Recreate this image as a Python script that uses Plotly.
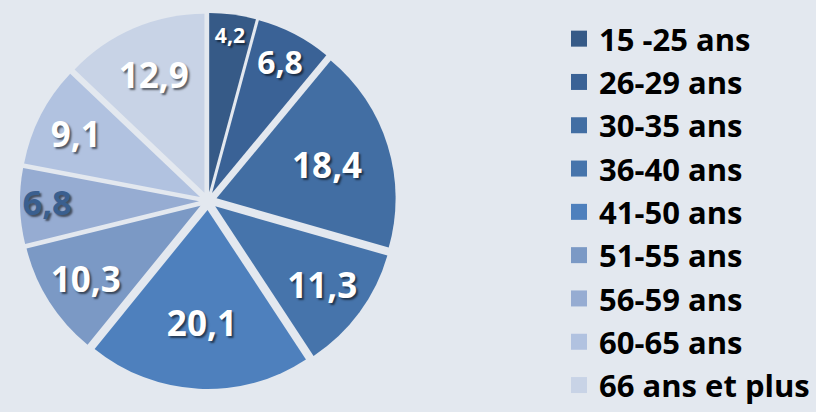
import plotly.graph_objects as go

categories = ["15 -25 ans", "26-29 ans", "30-35 ans", "36-40 ans", "41-50 ans",
              "51-55 ans", "56-59 ans", "60-65 ans", "66 ans et plus"]
values = [4.2, 6.8, 18.4, 11.3, 20.1, 10.3, 6.8, 9.1, 12.9]
value_labels = ["4,2", "6,8", "18,4", "11,3", "20,1", "10,3", "6,8", "9,1", "12,9"]
colors = ["#365a87", "#3a6296", "#426ea3", "#4674ab", "#4e80bd",
          "#7b99c5", "#96acd2", "#b1c2e0", "#c8d3e6"]
label_colors = ["white", "white", "white", "white", "white",
                "white", "#3a5f8f", "white", "white"]

W, H = 816, 412
fig = go.Figure()

fig.add_trace(go.Pie(
    labels=categories,
    values=values,
    text=value_labels,
    textinfo="text",
    textposition="inside",
    insidetextorientation="horizontal",
    sort=False,
    direction="clockwise",
    rotation=0,
    pull=[0.05] * len(values),
    marker=dict(colors=colors, line=dict(width=0)),
    textfont=dict(family="Open Sans", size=35, weight="bold", color=label_colors,
                  shadow="2px 2px 2px rgba(0,0,0,0.55)"),
    domain=dict(x=[20 / W, 396 / W], y=[1 - 389 / H, 1 - 13 / H]),
    showlegend=False,
    hoverinfo="label+value",
))

for i, (cat, col) in enumerate(zip(categories, colors)):
    fig.add_trace(go.Scatter(
        x=[None], y=[None], mode="markers",
        marker=dict(symbol="square", size=16, color=col),
        name=cat, legendgroup=f"g{i}", showlegend=True,
    ))

fig.update_layout(
    width=W, height=H,
    margin=dict(l=0, r=0, t=0, b=0),
    paper_bgcolor="#e3e8ef",
    plot_bgcolor="rgba(0,0,0,0)",
    xaxis=dict(visible=False),
    yaxis=dict(visible=False),
    legend=dict(
        x=559 / W, y=1 - 16 / H, xanchor="left", yanchor="top",
        font=dict(family="Open Sans", size=31, color="black", weight="bold"),
        tracegroupgap=0,
        traceorder="grouped",
        bgcolor="rgba(0,0,0,0)",
        itemwidth=30,
    ),
)

fig.write_html("out.html", config={"displayModeBar": False},
               post_script="document.body.style.margin='0';")
